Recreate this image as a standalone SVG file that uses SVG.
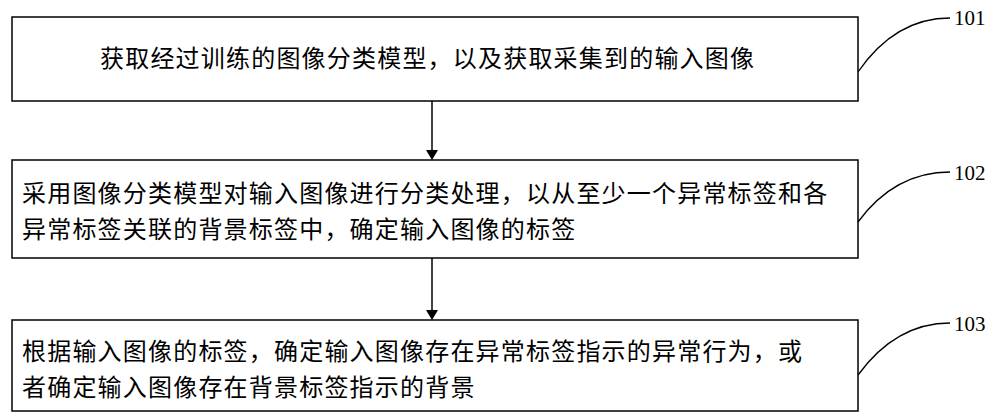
<svg xmlns="http://www.w3.org/2000/svg" width="1000" height="418" viewBox="0 0 1000 418">
<defs><marker id="ah" markerWidth="10" markerHeight="12" refX="9" refY="6" orient="auto" markerUnits="userSpaceOnUse"><path d="M0,0 L10,6 L0,12 Z" fill="#000"/></marker></defs>
<style>.b{fill:#fff;stroke:#000;stroke-width:1.5}.t{font-family:"Liberation Serif","Noto Sans CJK SC",serif;font-size:24px;letter-spacing:1.2px;fill:#000}.n{font-family:"Liberation Serif",serif;font-size:21px}.c{fill:none;stroke:#000;stroke-width:1.3}</style>
<rect width="1000" height="418" fill="#fff"/>
<g id="node101"><rect class="b" x="12" y="17" width="846" height="84"/><text class="t" x="100" y="67">获取经过训练的图像分类模型，以及获取采集到的输入图像</text></g>
<g id="node102"><rect class="b" x="12" y="160" width="846" height="98"/><text class="t" x="22" y="202">采用图像分类模型对输入图像进行分类处理，以从至少一个异常标签和各</text><text class="t" x="22" y="238">异常标签关联的背景标签中，确定输入图像的标签</text></g>
<g id="node103"><rect class="b" x="12" y="320" width="846" height="91"/><text class="t" x="22" y="360">根据输入图像的标签，确定输入图像存在异常标签指示的异常行为，或</text><text class="t" x="22" y="396">者确定输入图像存在背景标签指示的背景</text></g>
<g id="labels"><text class="n" x="954" y="25">101</text><text class="n" x="954" y="180">102</text><text class="n" x="954" y="331">103</text></g>
<g id="connectors">
<line x1="432" y1="101" x2="432" y2="159" stroke="#000" stroke-width="1.5" marker-end="url(#ah)"/>
<line x1="432" y1="258" x2="432" y2="319" stroke="#000" stroke-width="1.5" marker-end="url(#ah)"/>
<path class="c" d="M858,72 C880,40 910,18 950,18"/>
<path class="c" d="M858,222 C880,192 910,172 950,172"/>
<path class="c" d="M858,375 C880,345 910,323 950,323"/>
</g>
</svg>
